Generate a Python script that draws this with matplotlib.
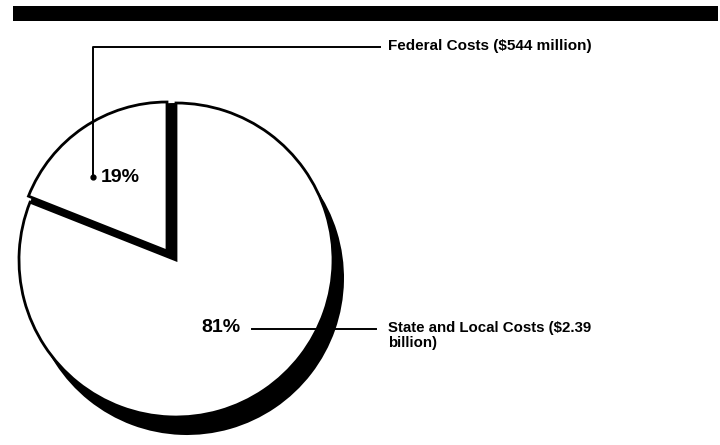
import matplotlib
matplotlib.use("Agg")
import matplotlib.pyplot as plt
from matplotlib.patches import Rectangle

# share of total costs (percent)
shares = [19, 81]
share_labels = ["19%", "81%"]
cost_labels = ["Federal Costs ($544 million)", "State and Local Costs ($2.39\nbillion)"]

W, H = 720, 445
FONT = ["Liberation Sans", "DejaVu Sans"]

fig = plt.figure(figsize=(W / 100, H / 100), dpi=100)
ax = fig.add_axes([0, 0, 1, 1])

# pixel-like coordinates, y measured from the bottom
cx, cy = 176, H - 260
radius = 157
pull = (-9, 9)  # the federal slice is pulled out to the upper left
shrink = 8      # and drawn a little smaller

# black drop shadow and black fill for the gap, then white wedges on top
ax.pie(shares, radius=radius, center=(cx + 11, cy - 18), startangle=90,
       colors=["black", "black"], wedgeprops=dict(linewidth=0))
ax.pie(shares, radius=radius, center=(cx, cy), startangle=90,
       colors=["black", "black"], wedgeprops=dict(linewidth=0))
wedges, _ = ax.pie(shares, radius=radius, center=(cx, cy), startangle=90,
                   colors=["white", "white"],
                   wedgeprops=dict(edgecolor="black", linewidth=2.0))
wedges[0].set_center((cx + pull[0], cy + pull[1]))
wedges[0].set_radius(radius - shrink)

ax.set_xlim(0, W)
ax.set_ylim(0, H)
ax.set_aspect("auto")
ax.axis("off")

# heavy rule across the top
ax.add_patch(Rectangle((13, H - 21), 705, 15, color="black", lw=0))

# federal label with elbow leader
ax.plot([93, 93, 380], [H - 177, H - 47, H - 47], color="black", lw=1.4)
ax.plot([93], [H - 177], "o", color="black", ms=3.5)
ax.text(101, H - 177, share_labels[0], ha="left", va="center",
        fontsize=14, fontweight="bold", family=FONT)
ax.text(388, H - 46, cost_labels[0], ha="left", va="center",
        fontsize=11, fontweight="bold", family=FONT)

# state and local label
ax.plot([252, 376], [H - 329, H - 329], color="black", lw=1.4)
ax.text(201, H - 328, share_labels[1], ha="left", va="center",
        fontsize=14, fontweight="bold", family=FONT)
ax.text(388, H - 321, cost_labels[1], ha="left", va="top",
        fontsize=10.8, fontweight="bold", family=FONT, linespacing=1.05)

fig.savefig("out.png", dpi=100, facecolor="white")
